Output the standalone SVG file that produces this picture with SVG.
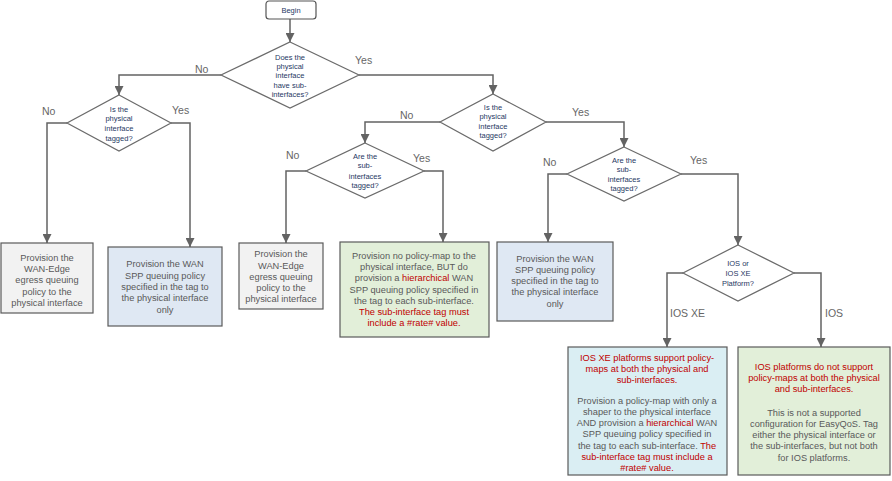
<svg xmlns="http://www.w3.org/2000/svg" width="892" height="481" viewBox="0 0 892 481">
<style>
.bg{fill:#ffffff}
.dia{fill:#ffffff;stroke:#6b6b6b;stroke-width:1.2}
.box{stroke:#5a5a5a;stroke-width:1.2}
.gray{fill:#f2f2f2}
.blue{fill:#dfe8f3}
.green{fill:#e2efd9}
.cyan{fill:#daeef3}
.dt{font-family:"Liberation Sans",Arial,sans-serif;font-size:7.5px;fill:#1f3864;text-anchor:middle}
.bt{font-family:"Liberation Sans",Arial,sans-serif;font-size:9.25px;fill:#595959;text-anchor:middle}
.lb{font-family:"Liberation Sans",Arial,sans-serif;font-size:10.5px;fill:#666666}
.red{fill:#c00000}
.con path{fill:none;stroke:#636363;stroke-width:1.5;marker-end:url(#arr)}
</style>
<defs>
<marker id="arr" viewBox="0 0 10 10" refX="10" refY="5" markerWidth="9" markerHeight="9" orient="auto" markerUnits="userSpaceOnUse">
<path d="M0,0 L10,5 L0,10 z" fill="#636363"/>
</marker>
</defs>
<rect class="bg" x="0" y="0" width="892" height="481"/>

<g id="connectors" class="con">
<path d="M290,19 V42"/>
<path d="M221,75 H119 V95"/>
<path d="M67,123 H47 V243"/>
<path d="M171,123 H190 V247"/>
<path d="M359,75 H493 V94"/>
<path d="M440,122 H365 V143"/>
<path d="M306,171 H286 V243"/>
<path d="M424,171 H443 V242"/>
<path d="M546,122 H624 V147"/>
<path d="M567,174 H548 V242"/>
<path d="M681,174 H738 V245"/>
<path d="M683,273 H667 V347"/>
<path d="M794,273 H821 V347"/>
</g>

<g id="labels">
<text class="lb" x="195" y="73">No</text>
<text class="lb" x="355" y="64">Yes</text>
<text class="lb" x="42" y="115">No</text>
<text class="lb" x="172" y="114">Yes</text>
<text class="lb" x="400" y="119">No</text>
<text class="lb" x="572" y="116">Yes</text>
<text class="lb" x="286" y="159">No</text>
<text class="lb" x="413" y="162">Yes</text>
<text class="lb" x="543" y="166">No</text>
<text class="lb" x="690" y="164">Yes</text>
<text class="lb" x="670" y="317">IOS XE</text>
<text class="lb" x="825" y="317">IOS</text>
</g>

<g id="begin">
<rect x="266" y="1" width="50" height="18" rx="3" fill="#ffffff" stroke="#555555" stroke-width="1.2"/>
<text class="dt" x="291" y="13">Begin</text>
</g>

<g id="d1">
<polygon class="dia" points="290,42 359,75 290,108 221,75"/>
<text class="dt" x="290" y="60">Does the</text>
<text class="dt" x="290" y="69">physical</text>
<text class="dt" x="290" y="78">interface</text>
<text class="dt" x="290" y="88">have  sub-</text>
<text class="dt" x="290" y="97">interfaces?</text>
</g>

<g id="d2">
<polygon class="dia" points="119,95 171,123 119,151 67,123"/>
<text class="dt" x="119" y="112">Is the</text>
<text class="dt" x="119" y="121">physical</text>
<text class="dt" x="119" y="131">interface</text>
<text class="dt" x="119" y="141">tagged?</text>
</g>

<g id="d3">
<polygon class="dia" points="493,94 546,122 493,151 440,122"/>
<text class="dt" x="493" y="110">Is the</text>
<text class="dt" x="493" y="119">physical</text>
<text class="dt" x="493" y="129">interface</text>
<text class="dt" x="493" y="138">tagged?</text>
</g>

<g id="d4">
<polygon class="dia" points="365,143 424,171 365,198 306,171"/>
<text class="dt" x="365" y="159">Are the</text>
<text class="dt" x="365" y="168">sub-</text>
<text class="dt" x="365" y="179">interfaces</text>
<text class="dt" x="365" y="188">tagged?</text>
</g>

<g id="d5">
<polygon class="dia" points="624,147 681,174 624,201 567,174"/>
<text class="dt" x="624" y="163">Are the</text>
<text class="dt" x="624" y="172">sub-</text>
<text class="dt" x="624" y="182">interfaces</text>
<text class="dt" x="624" y="191">tagged?</text>
</g>

<g id="d6">
<polygon class="dia" points="738,245 794,273 738,301 683,273"/>
<text class="dt" x="738" y="266">IOS or</text>
<text class="dt" x="738" y="276">IOS XE</text>
<text class="dt" x="738" y="286">Platform?</text>
</g>

<g id="box1">
<rect class="box gray" x="1" y="243" width="92" height="70"/>
<text class="bt" x="47" y="261">Provision the</text>
<text class="bt" x="47" y="272">WAN-Edge</text>
<text class="bt" x="47" y="283">egress queuing</text>
<text class="bt" x="47" y="295">policy to the</text>
<text class="bt" x="47" y="306">physical interface</text>
</g>

<g id="box2">
<rect class="box blue" x="108" y="247" width="114" height="79"/>
<text class="bt" x="165" y="267">Provision the WAN</text>
<text class="bt" x="165" y="279">SPP queuing  policy</text>
<text class="bt" x="165" y="290">specified in the tag to</text>
<text class="bt" x="165" y="301">the physical interface</text>
<text class="bt" x="165" y="313">only</text>
</g>

<g id="box3">
<rect class="box gray" x="239" y="243" width="84" height="66"/>
<text class="bt" x="281" y="257">Provision the</text>
<text class="bt" x="281" y="269">WAN-Edge</text>
<text class="bt" x="281" y="280">egress queuing</text>
<text class="bt" x="281" y="291">policy to the</text>
<text class="bt" x="281" y="302">physical interface</text>
</g>

<g id="box4">
<rect class="box green" x="340" y="242" width="149" height="95"/>
<text class="bt" x="414" y="259">Provision no policy-map to the</text>
<text class="bt" x="414" y="270">physical interface, BUT do</text>
<text class="bt" x="414" y="281">provision a <tspan class="red">hierarchical</tspan> WAN</text>
<text class="bt" x="414" y="293">SPP queuing  policy specified in</text>
<text class="bt" x="414" y="304">the tag to each sub-interface.</text>
<text class="bt red" x="414" y="315">The  sub-interface tag must</text>
<text class="bt red" x="414" y="326">include a #rate#  value.</text>
</g>

<g id="box5">
<rect class="box blue" x="497" y="242" width="116" height="79"/>
<text class="bt" x="555" y="262">Provision the WAN</text>
<text class="bt" x="555" y="273">SPP queuing  policy</text>
<text class="bt" x="555" y="284">specified in the tag to</text>
<text class="bt" x="555" y="295">the physical interface</text>
<text class="bt" x="555" y="307">only</text>
</g>

<g id="box6">
<rect class="box cyan" x="568" y="347" width="159" height="128"/>
<text class="bt red" x="647" y="361">IOS XE  platforms support policy-</text>
<text class="bt red" x="647" y="372">maps at both the physical and</text>
<text class="bt red" x="647" y="383">sub-interfaces.</text>
<text class="bt" x="647" y="404">Provision a policy-map with only a</text>
<text class="bt" x="647" y="415">shaper to the physical interface</text>
<text class="bt" x="647" y="426">AND provision a <tspan class="red">hierarchical</tspan> WAN</text>
<text class="bt" x="647" y="437">SPP queuing  policy specified in</text>
<text class="bt" x="647" y="449">the tag to each sub-interface.  <tspan class="red">The</tspan></text>
<text class="bt red" x="647" y="460">sub-interface tag must include a</text>
<text class="bt red" x="647" y="471">#rate#  value.</text>
</g>

<g id="box7">
<rect class="box green" x="738" y="347" width="152" height="128"/>
<text class="bt red" x="814" y="370">IOS platforms do not support</text>
<text class="bt red" x="814" y="381">policy-maps at both the physical</text>
<text class="bt red" x="814" y="392">and sub-interfaces.</text>
<text class="bt" x="814" y="416">This is not a supported</text>
<text class="bt" x="814" y="427">configuration for EasyQoS.  Tag</text>
<text class="bt" x="814" y="438">either the physical interface or</text>
<text class="bt" x="814" y="449">the sub-interfaces, but not both</text>
<text class="bt" x="814" y="461">for IOS platforms.</text>
</g>
</svg>
